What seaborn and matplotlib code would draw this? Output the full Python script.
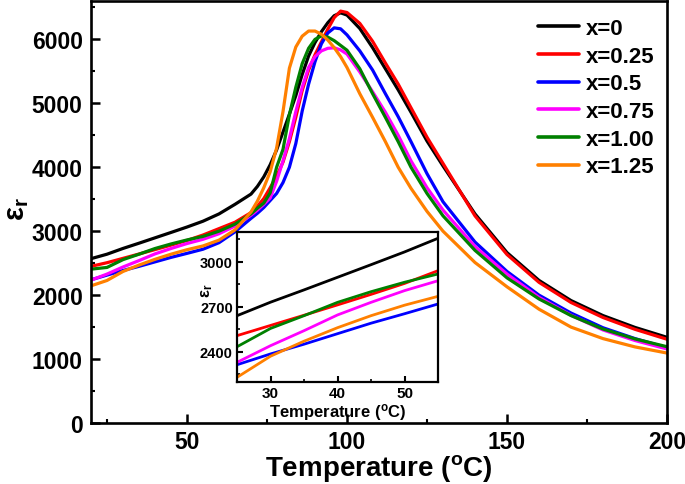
import matplotlib
matplotlib.use("Agg")
import matplotlib.pyplot as plt
from matplotlib.ticker import MultipleLocator
import seaborn as sns
import pandas as pd

# ---------------- data ----------------
temperature = [20, 25, 30, 35, 40, 45, 50, 55, 60, 65, 70, 72, 74, 76, 78, 80, 82, 84, 86, 88,
               90, 92, 94, 96, 98, 100, 104, 108, 112, 116, 120, 125, 130, 140, 150, 160, 170,
               180, 190, 200]

eps_x0 = [2570, 2640, 2730, 2812, 2896, 2980, 3065, 3156, 3270, 3420, 3580, 3700, 3850, 4040, 4270,
          4550, 4830, 5120, 5450, 5740, 5950, 6120, 6260, 6370, 6415, 6380, 6170, 5870, 5540, 5210,
          4860, 4410, 4020, 3270, 2665, 2230, 1915, 1680, 1495, 1340]
eps_x025 = [2450, 2507, 2575, 2643, 2712, 2782, 2855, 2940, 3040, 3140, 3290, 3390, 3510, 3680, 3860,
            4080, 4400, 4780, 5200, 5520, 5760, 5960, 6160, 6340, 6442, 6420, 6250, 5970, 5630, 5300,
            4930, 4470, 4060, 3240, 2635, 2200, 1885, 1650, 1465, 1310]
eps_x05 = [2240, 2313, 2385, 2450, 2520, 2590, 2653, 2718, 2820, 2990, 3200, 3280, 3370, 3480, 3590,
           3760, 4000, 4370, 4880, 5300, 5650, 5930, 6100, 6180, 6165, 6070, 5820, 5520, 5150, 4790,
           4400, 3900, 3460, 2830, 2370, 2000, 1720, 1490, 1320, 1178]
eps_x075 = [2234, 2329, 2440, 2540, 2645, 2729, 2807, 2873, 2960, 3080, 3250, 3330, 3420, 3520, 3780,
            4100, 4450, 4870, 5250, 5560, 5730, 5820, 5860, 5868, 5835, 5770, 5490, 5180, 4860, 4500,
            4100, 3680, 3330, 2760, 2330, 1965, 1685, 1455, 1290, 1158]
eps_x100 = [2406, 2433, 2555, 2640, 2729, 2800, 2863, 2918, 3000, 3110, 3270, 3360, 3440, 3600, 4000,
            4280, 4820, 5250, 5620, 5860, 6000, 6055, 6035, 5980, 5905, 5830, 5540, 5150, 4780, 4400,
            4000, 3590, 3240, 2700, 2270, 1940, 1680, 1470, 1315, 1193]
eps_x125 = [2145, 2229, 2370, 2470, 2560, 2640, 2710, 2769, 2860, 3020, 3300, 3470, 3680, 3930, 4300,
            4870, 5550, 5880, 6050, 6130, 6130, 6080, 5990, 5870, 5730, 5560, 5150, 4780, 4400, 4000,
            3670, 3310, 3000, 2510, 2130, 1780, 1500, 1320, 1190, 1094]

series_labels = ["x=0", "x=0.25", "x=0.5", "x=0.75", "x=1.00", "x=1.25"]
series_colors = ["#000000", "#FF0000", "#0000FF", "#FF00FF", "#008000", "#FF8000"]
series_values = [eps_x0, eps_x025, eps_x05, eps_x075, eps_x100, eps_x125]

main_xticks = [50, 100, 150, 200]
main_yticks = [0, 1000, 2000, 3000, 4000, 5000, 6000]
inset_xticks = [30, 40, 50]
inset_yticks = [2400, 2700, 3000]

# ---------------- build long table ----------------
frames = []
for lab, vals in zip(series_labels, series_values):
    frames.append(pd.DataFrame({"T": temperature, "eps": vals, "sample": lab}))
df = pd.concat(frames, ignore_index=True)
palette = dict(zip(series_labels, series_colors))

# ---------------- style ----------------
sns.set_theme(style="ticks")
plt.rcParams["font.family"] = ["Liberation Sans", "DejaVu Sans"]
plt.rcParams["font.weight"] = "bold"
plt.rcParams["mathtext.fontset"] = "custom"
plt.rcParams["mathtext.rm"] = "Liberation Sans"
plt.rcParams["mathtext.it"] = "Liberation Sans:italic"
plt.rcParams["mathtext.bf"] = "Liberation Sans:bold"
for key in ["text.color", "axes.labelcolor", "xtick.color", "ytick.color", "axes.edgecolor"]:
    plt.rcParams[key] = "black"

fig = plt.figure(figsize=(6.85, 4.85), dpi=100)
W, H = 685, 485
ax = fig.add_axes([91 / W, 61 / H, 576 / W, 422 / H])

sns.lineplot(data=df, x="T", y="eps", hue="sample", palette=palette,
             hue_order=series_labels, linewidth=2.3, ax=ax, sort=False,
             estimator=None)

ax.set_xlim(20, 200)
ax.set_ylim(0, 6600)
ax.set_xticks(main_xticks)
ax.set_yticks(main_yticks)
ax.xaxis.set_minor_locator(MultipleLocator(25))
ax.yaxis.set_minor_locator(MultipleLocator(500))
ax.tick_params(axis="both", which="major", direction="in", length=6.5, width=1.8,
               labelsize=16.5, pad=6, colors="black")
ax.tick_params(axis="x", which="major", pad=5)
ax.tick_params(axis="both", which="minor", direction="in", length=3, width=1.5, colors="black")
for lbl in ax.get_xticklabels() + ax.get_yticklabels():
    lbl.set_fontweight("bold")
for sp in ax.spines.values():
    sp.set_linewidth(1.9)
    sp.set_color("black")
    sp.set_visible(True)

ax.set_xlabel("Temperature ($\\mathbf{^{o}}$C)", fontsize=20, fontweight="bold", labelpad=-1)
ax.set_ylabel("$\\mathbf{ε_r}$", fontsize=21, fontweight="bold")
ax.yaxis.set_label_coords(-0.104, 0.51)

leg = ax.legend(loc="upper left", bbox_to_anchor=(538 / W, 1 - 19 / H),
                bbox_transform=fig.transFigure, frameon=False, borderaxespad=0,
                borderpad=0, handlelength=1.85, handletextpad=0.3, labelspacing=0.3,
                prop={"weight": "bold", "size": 16})
for line in leg.get_lines():
    line.set_linewidth(2.6)

# ---------------- inset ----------------
axin = fig.add_axes([237 / W, (H - 382.7) / H, 201 / W, 150 / H])
axin.set_facecolor("white")
inset_df = df[(df["T"] >= 25) & (df["T"] <= 55)]
sns.lineplot(data=inset_df, x="T", y="eps", hue="sample", palette=palette,
             hue_order=series_labels, linewidth=2.0, ax=axin, legend=False, sort=False,
             estimator=None)
axin.set_xlim(25, 55)
axin.set_ylim(2200, 3200)
axin.set_xticks(inset_xticks)
axin.set_yticks(inset_yticks)
axin.xaxis.set_minor_locator(MultipleLocator(5))
axin.yaxis.set_minor_locator(MultipleLocator(150))
axin.tick_params(axis="both", which="major", direction="in", length=4, width=1.5,
                 labelsize=11, pad=3, colors="black")
axin.tick_params(axis="y", which="major", labelsize=10.5)
axin.tick_params(axis="both", which="minor", direction="in", length=2, width=1.2, colors="black")
for lbl in axin.get_xticklabels() + axin.get_yticklabels():
    lbl.set_fontweight("bold")
for sp in axin.spines.values():
    sp.set_linewidth(1.6)
    sp.set_color("black")
    sp.set_visible(True)
axin.set_xlabel("Temperature ($\\mathbf{^{o}}$C)", fontsize=12, fontweight="bold", labelpad=0.5)
axin.set_ylabel("$\\mathbf{ε_r}$", fontsize=12, fontweight="bold", labelpad=0)
axin.yaxis.set_label_coords(-0.11, 0.61)

fig.savefig("out.png", dpi=100)
